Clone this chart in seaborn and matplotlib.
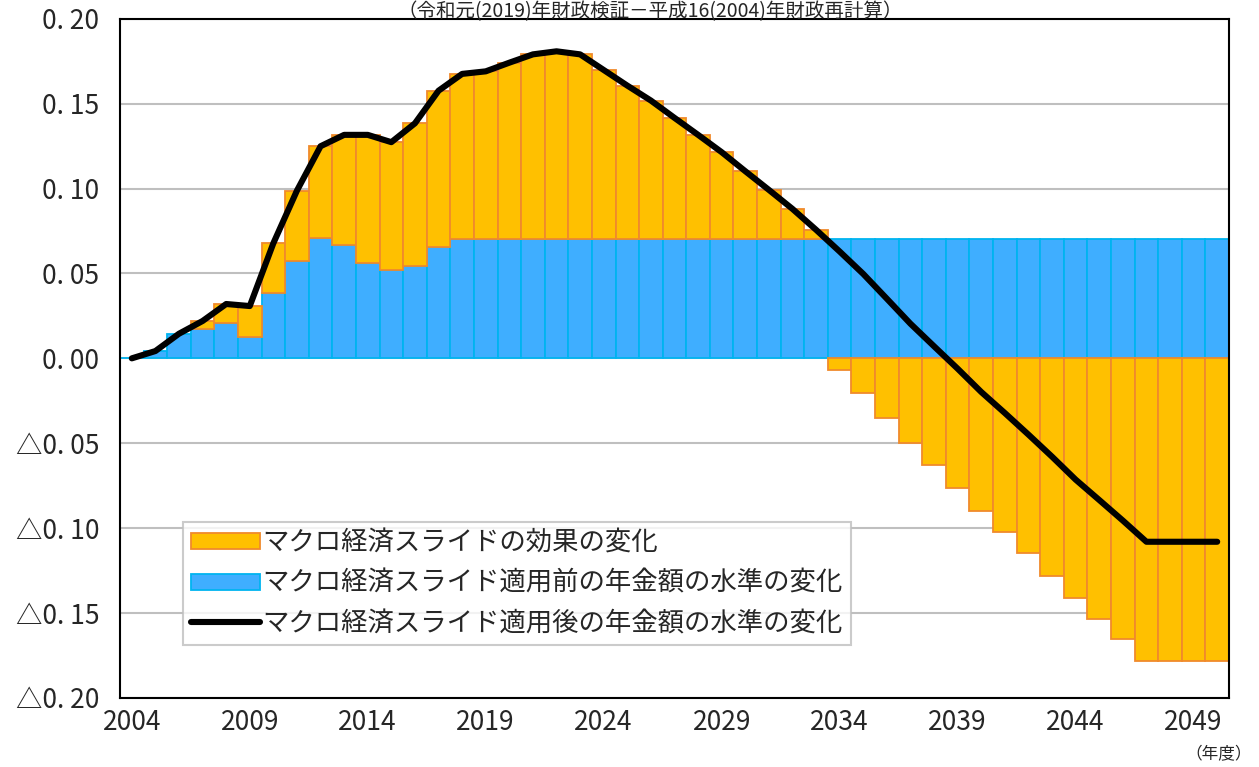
import numpy as np
import pandas as pd
import matplotlib
matplotlib.use("Agg")
import matplotlib.pyplot as plt
import seaborn as sns
from matplotlib.patches import Patch
from matplotlib.lines import Line2D

# years of the projection (fiscal years)
years = list(range(2004, 2051))

# change in pension level before macro slide
before = [0.0, 0.0043, 0.0145, 0.0175, 0.0208, 0.0125, 0.0384, 0.0573, 0.0708, 0.0665,
          0.0563, 0.0522, 0.0541, 0.0655, 0.070, 0.070, 0.070, 0.070, 0.070, 0.070,
          0.070, 0.070, 0.070, 0.070, 0.070, 0.070, 0.070, 0.070, 0.070, 0.070,
          0.070, 0.070, 0.070, 0.070, 0.070, 0.070, 0.070, 0.070, 0.070, 0.070,
          0.070, 0.070, 0.070, 0.070, 0.070, 0.070, 0.070]

# change in macro slide effect
effect = [0.0, 0.0, 0.0, 0.0045, 0.0112, 0.0183, 0.0294, 0.0415, 0.0541, 0.0651,
          0.0753, 0.0751, 0.0843, 0.0921, 0.0975, 0.0990, 0.1041, 0.1090, 0.1108, 0.1090,
          0.0998, 0.0906, 0.0818, 0.0716, 0.0616, 0.0514, 0.0402, 0.0292, 0.0180, 0.0057,
          -0.0071, -0.0203, -0.0349, -0.0496, -0.0629, -0.0761, -0.0898, -0.1022, -0.1149, -0.1279,
          -0.1414, -0.1534, -0.1655, -0.1780, -0.1780, -0.1780, -0.1780]

# change in pension level after macro slide
after = [0.0, 0.0043, 0.0145, 0.0220, 0.0320, 0.0308, 0.0678, 0.0988, 0.1249, 0.1316,
         0.1316, 0.1273, 0.1384, 0.1576, 0.1675, 0.1690, 0.1741, 0.1790, 0.1808, 0.1790,
         0.1698, 0.1606, 0.1518, 0.1416, 0.1316, 0.1214, 0.1102, 0.0992, 0.0880, 0.0757,
         0.0629, 0.0497, 0.0351, 0.0204, 0.0071, -0.0061, -0.0198, -0.0322, -0.0449, -0.0579,
         -0.0714, -0.0834, -0.0955, -0.1080, -0.1080, -0.1080, -0.1080]

xtick_years = [2004, 2009, 2014, 2019, 2024, 2029, 2034, 2039, 2044, 2049]
ytick_vals = [0.20, 0.15, 0.10, 0.05, 0.00, -0.05, -0.10, -0.15, -0.20]
ytick_labels = ["0. 20", "0. 15", "0. 10", "0. 05", "0. 00",
                "△0. 05", "△0. 10", "△0. 15", "△0. 20"]

labels = ["マクロ経済スライドの効果の変化",
          "マクロ経済スライド適用前の年金額の水準の変化",
          "マクロ経済スライド適用後の年金額の水準の変化"]

orange, orange_edge = "#FFC000", "#F08A2C"
blue, blue_edge = "#3FAEFF", "#00B4F0"

sns.set_theme(style="white")
plt.rcParams['font.family'] = ['Noto Sans CJK JP', 'DejaVu Sans']

df = pd.DataFrame({"year": years, "before": before, "effect": effect, "after": after})

fig = plt.figure(figsize=(12.59, 7.67), dpi=100)
ax = fig.add_axes([120 / 1259, 69 / 767, 1109 / 1259, 679.3 / 767])
ax.set_axisbelow(True)
ax.yaxis.grid(True, color="#BFBFBF", lw=1.5)

sns.barplot(data=df, x="year", y="before", native_scale=True, width=1.0,
            color=blue, saturation=1, edgecolor=blue_edge, linewidth=1.3,
            errorbar=None, ax=ax)

# stacked on top of the blue bar when positive, hanging from zero when negative
eff = df[df["effect"] != 0]
bottoms = np.where(eff["effect"] > 0, eff["before"], 0.0)
ax.bar(eff["year"], eff["effect"], bottom=bottoms, width=1.0, color=orange,
       edgecolor=orange_edge, linewidth=1.3)

sns.lineplot(data=df, x="year", y="after", color="black", lw=4.4,
             solid_capstyle="round", ax=ax)

ax.set_xlim(2003.5, 2050.5)
ax.set_ylim(-0.20, 0.20)
ax.set_xticks(xtick_years)
ax.set_xticklabels([str(y) for y in xtick_years], fontsize=19)
ax.set_yticks(ytick_vals)
ax.set_yticklabels(ytick_labels, fontsize=19)
ax.tick_params(axis="y", length=0, pad=15)
ax.tick_params(axis="x", length=0, pad=8)
ax.set_xlabel("")
ax.set_ylabel("")
for s in ax.spines.values():
    s.set_color("black")
    s.set_linewidth(1.5)

handles = [Patch(facecolor=orange, edgecolor=orange_edge, linewidth=1.3),
           Patch(facecolor=blue, edgecolor=blue_edge, linewidth=1.3),
           Line2D([0], [0], color="black", lw=4.4, solid_capstyle="round")]
leg = ax.legend(handles, labels, loc="lower left", bbox_to_anchor=(0.057, 0.078),
                fontsize=19, frameon=True, fancybox=False, edgecolor="#BFBFBF",
                handlelength=2.6, handleheight=0.55, handletextpad=0.1,
                labelspacing=0.5, borderpad=0.3, borderaxespad=0)
leg.get_frame().set_linewidth(1.5)

fig.text(650 / 1259, 1 - 1 / 767, "（令和元(2019)年財政検証－平成16(2004)年財政再計算）",
         ha="center", va="top", fontsize=14)
fig.text(1219 / 1259, 1 - 755 / 767, "（年度）", ha="center", va="center", fontsize=12)

fig.savefig("out.png", dpi=100)
